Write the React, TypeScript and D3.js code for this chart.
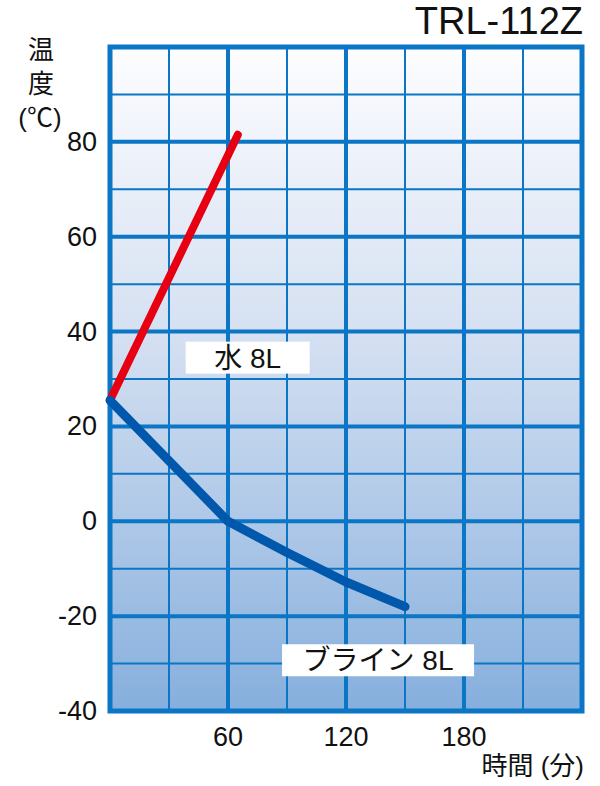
import { scaleLinear, line, range } from "d3";

const timeTicks = [60, 120, 180];
const tempTicks = [-40, -20, 0, 20, 40, 60, 80];

const waterTime = [0, 65];
const waterTemp = [25.5, 81.5];

const brineTime = [0, 60, 90, 120, 150];
const brineTemp = [25.5, 0, -6.6, -12.8, -18];

const W = 600;
const H = 786;
const FONT = "'Liberation Sans', 'Noto Sans CJK JP', sans-serif";

const x = scaleLinear().domain([0, 240]).range([110, 582]);
const y = scaleLinear().domain([-40, 100]).range([711, 47]);

const toPath = (ts: number[], vs: number[]) =>
	line<number>()
		.x((t) => x(t))
		.y((_, i) => y(vs[i]))(ts) ?? "";

function Label({ t, v, w, text }: { t: number; v: number; w: number; text: string }) {
	const cx = x(t);
	const cy = y(v);
	return (
		<g>
			<rect x={cx - w / 2} y={cy - 16} width={w} height={32} fill="#fff" />
			<text x={cx} y={cy + 10} textAnchor="middle" fontSize={28} fontFamily={FONT} fill="#111">
				{text}
			</text>
		</g>
	);
}

export default function App() {
	const vLines = range(0, 241, 30);
	const hLines = range(-40, 101, 10);
	const grid = "#0b76c5";

	return (
		<svg width={W} height={H} style={{ position: "absolute", left: 0, top: 0 }}>
			<defs>
				<linearGradient id="bg" x1="0" y1="0" x2="0" y2="1">
					<stop offset="0" stopColor="#fdfdff" />
					<stop offset="0.45" stopColor="#d3dff1" />
					<stop offset="1" stopColor="#86afdd" />
				</linearGradient>
			</defs>
			<rect x={x(0)} y={y(100)} width={x(240) - x(0)} height={y(-40) - y(100)} fill="url(#bg)" />

			{vLines.map((t) => (
				<line key={"v" + t} x1={x(t)} x2={x(t)} y1={y(100)} y2={y(-40)}
					stroke={grid} strokeWidth={t % 60 === 0 ? 4 : 2} />
			))}
			{hLines.map((v) => (
				<line key={"h" + v} x1={x(0)} x2={x(240)} y1={y(v)} y2={y(v)}
					stroke={grid} strokeWidth={v % 20 === 0 ? 4 : 2} />
			))}
			<rect x={x(0)} y={y(100)} width={x(240) - x(0)} height={y(-40) - y(100)}
				fill="none" stroke={grid} strokeWidth={5} />

			<Label t={70} v={34.5} w={124} text="水 8L" />
			<Label t={136.3} v={-29.3} w={192} text="ブライン 8L" />

			<path d={toPath(waterTime, waterTemp)} fill="none" stroke="#e60012" strokeWidth={8}
				strokeLinecap="round" strokeLinejoin="round" />
			<path d={toPath(brineTime, brineTemp)} fill="none" stroke="#0058ad" strokeWidth={9}
				strokeLinecap="round" strokeLinejoin="round" />

			{tempTicks.map((v) => (
				<text key={"yt" + v} x={97} y={y(v) + 9} textAnchor="end" fontSize={27} fontFamily={FONT} fill="#111">
					{v}
				</text>
			))}
			{timeTicks.map((t) => (
				<text key={"xt" + t} x={x(t)} y={746} textAnchor="middle" fontSize={27} fontFamily={FONT} fill="#111">
					{t}
				</text>
			))}

			<text x={583} y={34} textAnchor="end" fontSize={38} fontFamily={FONT} fill="#111">TRL-112Z</text>

			<text x={41} y={59} textAnchor="middle" fontSize={26} fontFamily={FONT} fill="#111">温</text>
			<text x={41} y={93} textAnchor="middle" fontSize={26} fontFamily={FONT} fill="#111">度</text>
			<text x={40} y={127} textAnchor="middle" fontSize={26} fontFamily={FONT} fill="#111">(℃)</text>

			<text x={584} y={775} textAnchor="end" fontSize={26} fontFamily={FONT} fill="#111">時間 (分)</text>
		</svg>
	);
}
